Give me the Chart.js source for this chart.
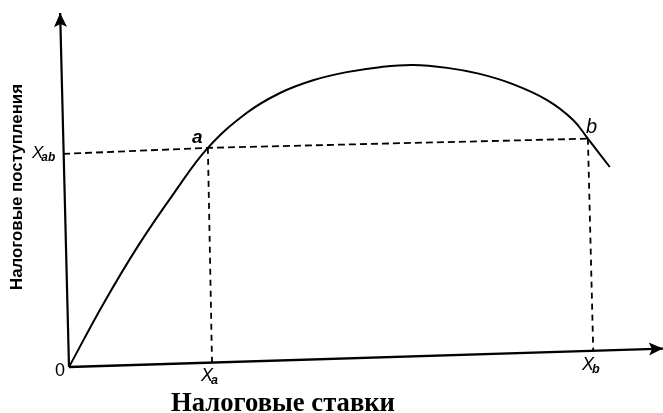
<!DOCTYPE html>
<html>
<head>
<meta charset="utf-8">
<script src="https://cdn.jsdelivr.net/npm/chart.js@4.4.1/dist/chart.umd.min.js"></script>
<style>
html,body{margin:0;padding:0;background:#fff;}
#wrap{width:663px;height:413px;}
</style>
</head>
<body>
<div id="wrap"><canvas id="c" width="663" height="413"></canvas></div>
<script>
// Laffer curve (tax rate -> tax revenue)
const curveX = [0, 5.9, 11.8, 17.8, 23.5, 30.1, 35.7, 41.3, 47.0, 52.6, 58.2, 64.0, 69.5, 75.1, 80.9, 85.3, 87.8, 91.5];
const curveY = [0, 18.1, 34.5, 49.2, 61.9, 71.8, 77.4, 81.0, 83.3, 84.7, 85.3, 84.5, 82.8, 79.9, 75.4, 69.8, 64.5, 56.5];
// Level line X_ab from the revenue axis through a to b
const levelX = [-1.0, 23.5, 87.8];
const levelY = [60.2, 61.9, 64.5];
// Drop lines to the rate axis (X_a, X_b)
const dropAX = [23.5, 24.2];
const dropAY = [61.9, 1.1];
const dropBX = [87.8, 88.7];
const dropBY = [64.5, 4.8];
// Axes (scanned page is slightly skewed)
const xAxisX = [0, 100.5];
const xAxisY = [0, 5.2];
const yAxisX = [0, -1.5];
const yAxisY = [0, 100];
// Texts
const xTitle = 'Налоговые ставки';
const yTitle = 'Налоговые поступления';

const pts = (xs, ys) => xs.map((x, i) => ({x, y: ys[i]}));

const arrowPlugin = {
  id: 'arrows',
  afterDatasetsDraw(chart) {
    const ctx = chart.ctx;
    [1, 2].forEach(di => {
      const els = chart.getDatasetMeta(di).data;
      const p1 = els[els.length - 2], p2 = els[els.length - 1];
      const ang = Math.atan2(p2.y - p1.y, p2.x - p1.x);
      const L = 14, W = 6.5;
      ctx.save();
      ctx.translate(p2.x, p2.y);
      ctx.rotate(ang);
      ctx.beginPath();
      ctx.moveTo(0, 0);
      ctx.lineTo(-L, -W);
      ctx.lineTo(-L + 3, 0);
      ctx.lineTo(-L, W);
      ctx.closePath();
      ctx.fillStyle = '#000';
      ctx.fill();
      ctx.restore();
    });
  }
};

function fitFont(ctx, text, style, family, target) {
  ctx.font = style + ' 20px ' + family;
  const w = ctx.measureText(text).width;
  return style + ' ' + (20 * target / w).toFixed(2) + 'px ' + family;
}

const textPlugin = {
  id: 'texts',
  afterDraw(chart) {
    const ctx = chart.ctx;
    ctx.save();
    ctx.fillStyle = '#000';
    // x title
    ctx.font = fitFont(ctx, xTitle, 'bold', '"Liberation Serif", "Times New Roman", serif', 224);
    ctx.textAlign = 'center';
    ctx.textBaseline = 'alphabetic';
    ctx.fillText(xTitle, 283, 411);
    // y title
    ctx.save();
    ctx.translate(22, 187);
    ctx.rotate(-Math.PI / 2);
    ctx.font = fitFont(ctx, yTitle, 'bold', '"Liberation Sans", Arial, sans-serif', 206);
    ctx.textAlign = 'center';
    ctx.textBaseline = 'alphabetic';
    ctx.fillText(yTitle, 0, 0);
    ctx.restore();

    const sans = '"Liberation Sans", Arial, sans-serif';
    function sub(main, s, x, y, size) {
      ctx.font = 'italic ' + size + 'px ' + sans;
      ctx.textAlign = 'left';
      ctx.fillText(main, x, y);
      const w = ctx.measureText(main).width;
      ctx.font = 'bold italic ' + (size * 0.7).toFixed(1) + 'px ' + sans;
      ctx.fillText(s, x + w - 2, y + 3);
    }
    ctx.textBaseline = 'alphabetic';
    // origin
    ctx.font = '18px ' + sans;
    ctx.textAlign = 'left';
    ctx.fillText('0', 55, 376);
    // X_a, X_b, X_ab
    sub('X', 'a', 201, 381, 18);
    sub('X', 'b', 582, 370, 18);
    sub('X', 'ab', 32, 158, 17);
    // point labels
    ctx.font = 'bold italic 19px ' + sans;
    ctx.fillText('a', 192, 143);
    ctx.font = 'italic 20px ' + sans;
    ctx.fillText('b', 586, 133);
    ctx.restore();
  }
};

const base = {fill: false, pointRadius: 0, borderColor: '#000', clip: false, tension: 0};

new Chart(document.getElementById('c'), {
  type: 'scatter',
  data: {
    datasets: [
      Object.assign({}, base, {label: 'curve', data: pts(curveX, curveY), showLine: true, borderWidth: 2, tension: 0.4}),
      Object.assign({}, base, {label: 'xAxis', data: pts(xAxisX, xAxisY), showLine: true, borderWidth: 2.4}),
      Object.assign({}, base, {label: 'yAxis', data: pts(yAxisX, yAxisY), showLine: true, borderWidth: 2.2}),
      Object.assign({}, base, {label: 'level', data: pts(levelX, levelY), showLine: true, borderWidth: 1.8, borderDash: [7, 4]}),
      Object.assign({}, base, {label: 'dropA', data: pts(dropAX, dropAY), showLine: true, borderWidth: 1.8, borderDash: [6, 5]}),
      Object.assign({}, base, {label: 'dropB', data: pts(dropBX, dropBY), showLine: true, borderWidth: 1.8, borderDash: [6, 5]})
    ]
  },
  options: {
    responsive: false,
    animation: false,
    layout: {padding: {left: 69, right: 3, top: 13, bottom: 46}},
    scales: {
      x: {type: 'linear', min: 0, max: 100, display: false},
      y: {type: 'linear', min: 0, max: 100, display: false}
    },
    plugins: {legend: {display: false}, tooltip: {enabled: false}}
  },
  plugins: [arrowPlugin, textPlugin]
});
</script>
</body>
</html>
